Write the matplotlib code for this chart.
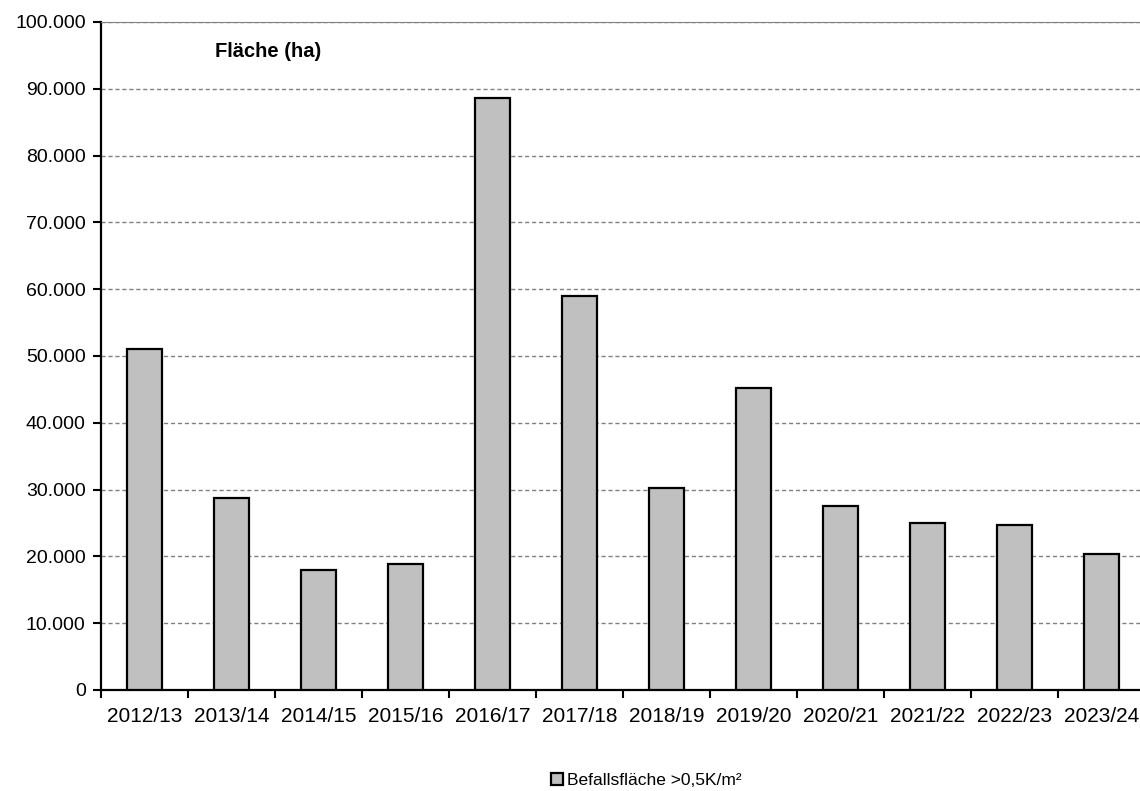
import numpy as np
import matplotlib.pyplot as plt
from matplotlib.ticker import FuncFormatter

plt.rcParams['font.family'] = ['Liberation Sans', 'DejaVu Sans']

seasons = ['2012/13', '2013/14', '2014/15', '2015/16', '2016/17', '2017/18',
           '2018/19', '2019/20', '2020/21', '2021/22', '2022/23', '2023/24']
flaeche = [51000, 28800, 18000, 18900, 88600, 59000,
           30300, 45200, 27600, 25000, 24700, 20400]

fig = plt.figure(figsize=(11.4, 7.91), dpi=100)
ax = fig.add_axes([0.0886, 0.1277, 0.9158, 0.8445])

x = np.arange(len(seasons))
bars = ax.bar(x, flaeche, width=0.4, color='#c0c0c0', edgecolor='black',
              linewidth=1.6, zorder=3, label='Befallsfläche >0,5K/m²')

ax.set_xlim(-0.5, len(seasons) - 0.5)
ax.set_ylim(0, 100000)
ax.set_yticks(np.arange(0, 100001, 10000))
ax.yaxis.set_major_formatter(FuncFormatter(lambda v, p: f'{int(v):,}'.replace(',', '.')))
ax.set_xticks(x)
ax.set_xticklabels(seasons)
ax.set_xticks(np.arange(-0.5, len(seasons), 1), minor=True)
ax.tick_params(axis='x', which='major', length=0, labelsize=15, pad=12)
ax.tick_params(axis='x', which='minor', length=6, width=1.5, direction='out')
ax.tick_params(axis='y', length=6, width=1.5, labelsize=14, pad=5)

ax.grid(axis='y', linestyle=(0, (3, 2)), color='#808080', linewidth=1, zorder=0)
for s in ['left', 'bottom']:
    ax.spines[s].set_linewidth(1.6)
ax.spines['top'].set_color('#808080')
ax.spines['right'].set_visible(False)

ax.text(0.109, 0.956, 'Fläche (ha)', transform=ax.transAxes, fontsize=14.5,
        fontweight='bold', va='center', ha='left')

fig.legend(handles=[bars], loc='center', bbox_to_anchor=(0.567, 0.013),
           frameon=False, fontsize=12.5, handlelength=0.7, handleheight=0.7,
           handletextpad=0.2, borderpad=0)

fig.savefig('out.png', dpi=100)
